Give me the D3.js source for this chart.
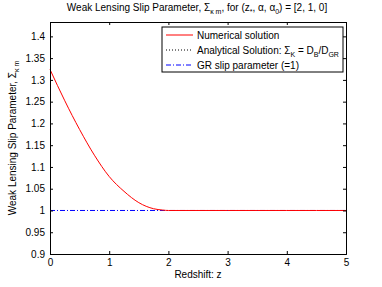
<!DOCTYPE html>
<html>
<head>
<meta charset="utf-8">
<script src="https://cdn.jsdelivr.net/npm/d3@7"></script>
<style>
  body { margin: 0; background: #fff; }
  text { font-family: "Liberation Sans", Arial, sans-serif; fill: #000; }
</style>
</head>
<body>
<div id="chart"></div>
<script>
// values
const redshift = [0, 0.25, 0.5, 0.75, 1.0, 1.25, 1.5, 1.75, 1.9, 2.0, 2.5, 3, 3.5, 4, 4.5, 5];
const sigmaNumerical = [1.324, 1.252, 1.186, 1.127, 1.078, 1.044, 1.018, 1.004, 1.001, 1.0, 1.0, 1.0, 1.0, 1.0, 1.0, 1.0];
const grRedshift = [0, 5];
const grSlip = [1, 1];
const xTicks = [0, 1, 2, 3, 4, 5];
const yTicks = [0.9, 0.95, 1, 1.05, 1.1, 1.15, 1.2, 1.25, 1.3, 1.35, 1.4];

const W = 382, H = 287;
const margin = { top: 22, right: 36, bottom: 33, left: 50 },
  width = W - margin.left - margin.right,
  height = H - margin.top - margin.bottom;

const x = d3.scaleLinear().domain([0, 5]).range([0, width]);
const y = d3.scaleLinear().domain([0.9, 1.433]).range([height, 0]);

const root = d3.select("#chart").append("svg")
  .attr("width", W)
  .attr("height", H);

const svg = root.append("g")
  .attr("transform", "translate(" + margin.left + "," + margin.top + ")");

// data lines
const line = d3.line()
  .x(d => x(d[0]))
  .y(d => y(d[1]))
  .curve(d3.curveMonotoneX);

svg.append("path")
  .datum(grRedshift.map((z, i) => [z, grSlip[i]]))
  .attr("d", line)
  .attr("fill", "none")
  .attr("stroke", "#0000ff")
  .attr("stroke-width", 1)
  .attr("stroke-dasharray", "5,2,1,2");

svg.append("path")
  .datum(redshift.map((z, i) => [z, sigmaNumerical[i]]))
  .attr("d", line)
  .attr("fill", "none")
  .attr("stroke", "#ff0000")
  .attr("stroke-width", 1);

// axes, MATLAB style: inward ticks on all four sides
const tickLen = 3;
svg.append("g")
  .attr("transform", "translate(0," + height + ")")
  .call(d3.axisBottom(x).tickValues(xTicks).tickSize(-tickLen).tickPadding(5).tickFormat(d3.format("d")));
svg.append("g")
  .call(d3.axisTop(x).tickValues(xTicks).tickSize(-tickLen).tickFormat(""));
svg.append("g")
  .call(d3.axisLeft(y).tickValues(yTicks).tickSize(-tickLen).tickPadding(5).tickFormat(d => d3.format("")(+d.toFixed(2))));
svg.append("g")
  .attr("transform", "translate(" + width + ",0)")
  .call(d3.axisRight(y).tickValues(yTicks).tickSize(-tickLen).tickFormat(""));

svg.selectAll(".domain").attr("stroke", "#000");
svg.selectAll(".tick line").attr("stroke", "#000");
svg.selectAll(".tick text").style("font-size", "10px").attr("fill", "#000");

// title
const title = root.append("text")
  .attr("x", 197)
  .attr("y", 11)
  .attr("text-anchor", "middle")
  .style("font-size", "10px");
title.append("tspan").text("Weak Lensing Slip Parameter, Σ");
title.append("tspan").attr("dy", 3).style("font-size", "7px").text("κ m");
title.append("tspan").attr("dy", -3).text(", for (z");
title.append("tspan").attr("dy", 3).style("font-size", "7px").text("*");
title.append("tspan").attr("dy", -3).text(", α, α");
title.append("tspan").attr("dy", 3).style("font-size", "7px").text("0");
title.append("tspan").attr("dy", -3).text(") = [2, 1, 0]");

// axis labels
root.append("text")
  .attr("x", margin.left + width / 2)
  .attr("y", 278)
  .attr("text-anchor", "middle")
  .style("font-size", "10px")
  .text("Redshift: z");

const ylab = root.append("text")
  .attr("transform", "translate(16," + (margin.top + height / 2) + ") rotate(-90)")
  .attr("text-anchor", "middle")
  .style("font-size", "10px");
ylab.append("tspan").text("Weak Lensing Slip Parameter, Σ");
ylab.append("tspan").attr("dy", 3).style("font-size", "7px").text("κ m");

// legend
const lg = root.append("g").attr("transform", "translate(162,27)");
lg.append("rect")
  .attr("width", 181).attr("height", 45)
  .attr("fill", "#fff").attr("stroke", "#000").attr("stroke-width", 1);

const rows = [
  { y: 8, color: "#ff0000", dash: null },
  { y: 23, color: "#000", dash: "1,2" },
  { y: 38, color: "#0000ff", dash: "5,2,1,2" }
];
rows.forEach(r => {
  lg.append("line")
    .attr("x1", 4).attr("x2", 31)
    .attr("y1", r.y).attr("y2", r.y)
    .attr("stroke", r.color).attr("stroke-width", 1)
    .attr("stroke-dasharray", r.dash);
});

lg.append("text").attr("x", 35).attr("y", 11.5).style("font-size", "10px").text("Numerical solution");
const t2 = lg.append("text").attr("x", 35).attr("y", 26.5).style("font-size", "10px");
t2.append("tspan").text("Analytical Solution: Σ");
t2.append("tspan").attr("dy", 3).style("font-size", "7px").text("K");
t2.append("tspan").attr("dy", -3).text(" = D");
t2.append("tspan").attr("dy", 3).style("font-size", "7px").text("B");
t2.append("tspan").attr("dy", -3).text("/D");
t2.append("tspan").attr("dy", 3).style("font-size", "7px").text("GR");
lg.append("text").attr("x", 35).attr("y", 41.5).style("font-size", "10px").text("GR slip parameter (=1)");
</script>
</body>
</html>
